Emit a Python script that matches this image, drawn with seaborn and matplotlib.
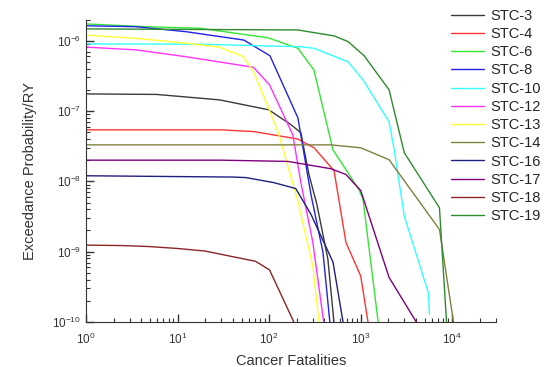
import numpy as np
import pandas as pd
import seaborn as sns
import matplotlib
matplotlib.use("Agg")
import matplotlib.pyplot as plt

# exceedance curves (x = cancer fatalities, y = probability/RY)
stc3_x = [1, 5.9, 28.7, 99, 173, 222, 272, 332, 438, 510]
stc3_y = [1.75e-7, 1.72e-7, 1.44e-7, 1.04e-7, 6.4e-8, 4.9e-8, 1.25e-8, 4.7e-9, 7.8e-10, 1.0e-10]

stc4_x = [1, 29.5, 68, 205, 309, 511, 690, 1000, 1200]
stc4_y = [5.4e-8, 5.4e-8, 5.1e-8, 4.0e-8, 3.0e-8, 1.42e-8, 1.35e-9, 4.5e-10, 1.0e-10]

stc6_x = [1, 4.5, 17.8, 44, 97, 206, 308, 498, 957, 1060, 1550]
stc6_y = [1.73e-6, 1.58e-6, 1.5e-6, 1.27e-6, 1.1e-6, 7.8e-7, 3.84e-7, 2.8e-8, 7.6e-9, 5.5e-9, 1.0e-10]

stc8_x = [1, 3.5, 12.5, 53, 102, 206, 286, 387, 460]
stc8_y = [1.63e-6, 1.58e-6, 1.34e-6, 1.02e-6, 6.1e-7, 8.0e-8, 6.5e-9, 9.8e-10, 1.0e-10]

stc10_x = [1, 17.8, 222, 308, 728, 1060, 2040, 2320, 2990, 5480, 5630]
stc10_y = [9.0e-7, 8.9e-7, 8.2e-7, 7.8e-7, 5.0e-7, 2.77e-7, 7.0e-8, 2.8e-8, 3.2e-9, 2.6e-10, 1.29e-10]

stc12_x = [1, 3.5, 12.5, 52.6, 67.6, 101, 181, 222, 300, 394]
stc12_y = [8.1e-7, 7.4e-7, 5.9e-7, 4.4e-7, 4.17e-7, 2.35e-7, 4.6e-8, 9.6e-9, 1.35e-9, 1.0e-10]

stc13_x = [1, 3.5, 12.5, 28.7, 52.6, 67.6, 98.5, 127, 206, 300, 350]
stc13_y = [1.2e-6, 1.08e-6, 9.2e-7, 8.1e-7, 5.9e-7, 3.6e-7, 1.11e-7, 4.75e-8, 5.2e-9, 6.2e-10, 1.0e-10]

stc14_x = [1, 473, 1000, 2040, 7240, 10300]
stc14_y = [3.3e-8, 3.3e-8, 3.0e-8, 2.03e-8, 2.07e-9, 1.0e-10]

stc16_x = [1, 9, 41, 56, 112, 195, 286, 498, 641]
stc16_y = [1.2e-8, 1.17e-8, 1.15e-8, 1.13e-8, 9.6e-9, 7.9e-9, 3.4e-9, 7.1e-10, 1.0e-10]

stc17_x = [1, 29.5, 160, 473, 690, 1000, 2040, 4040]
stc17_y = [2.0e-8, 2.0e-8, 1.92e-8, 1.51e-8, 1.25e-8, 7.4e-9, 4.3e-10, 1.0e-10]

stc18_x = [1, 2.6, 5.0, 10, 20, 38, 71, 101, 186]
stc18_y = [1.24e-9, 1.22e-9, 1.18e-9, 1.11e-9, 1.02e-9, 8.6e-10, 7.3e-10, 5.5e-10, 1.0e-10]

stc19_x = [1, 206, 510, 728, 1090, 2040, 2990, 7240, 8650]
stc19_y = [1.47e-6, 1.42e-6, 1.17e-6, 9.7e-7, 6.1e-7, 2.0e-7, 2.55e-8, 4.2e-9, 1.0e-10]

names = ["STC-3", "STC-4", "STC-6", "STC-8", "STC-10", "STC-12",
         "STC-13", "STC-14", "STC-16", "STC-17", "STC-18", "STC-19"]
xs = [stc3_x, stc4_x, stc6_x, stc8_x, stc10_x, stc12_x,
      stc13_x, stc14_x, stc16_x, stc17_x, stc18_x, stc19_x]
ys = [stc3_y, stc4_y, stc6_y, stc8_y, stc10_y, stc12_y,
      stc13_y, stc14_y, stc16_y, stc17_y, stc18_y, stc19_y]
colors = ["#3a3a3a", "#ff3333", "#33e633", "#2323e6", "#33ffff", "#ff33ff",
          "#ffff33", "#808040", "#1f1f80", "#800080", "#8b2525", "#2e8b2e"]

rows = []
for n, x, y in zip(names, xs, ys):
    for a, b in zip(x, y):
        rows.append({"series": n, "fatalities": a, "prob": b})
df = pd.DataFrame(rows)

sns.set_style("ticks")
plt.rcParams["font.family"] = ["Liberation Sans", "DejaVu Sans"]

fig = plt.figure(figsize=(5.49, 3.67), dpi=100)
ax = fig.add_axes([86 / 549, 1 - 322 / 367, 410 / 549, (322 - 19.5) / 367])

sns.lineplot(data=df, x="fatalities", y="prob", hue="series", hue_order=names,
             palette=dict(zip(names, colors)), sort=False, estimator=None,
             linewidth=1.0, ax=ax, legend=True)

ax.set_xscale("log")
ax.set_yscale("log")
ax.set_xlim(1, 3e4)
ax.set_ylim(1e-10, 2e-6)
ax.set_yticks([1e-10, 1e-9, 1e-8, 1e-7, 1e-6])
ax.set_xticks([1, 10, 100, 1000, 10000])
sns.despine(ax=ax)
ax.spines["left"].set_color("#333333")
ax.spines["bottom"].set_color("#333333")
ax.tick_params(which="major", direction="in", length=6, width=1, colors="#333333", labelsize=8.5)
ax.tick_params(axis="x", which="major", pad=7)
ax.tick_params(which="minor", direction="in", length=3, width=0.8, colors="#333333")

ax.set_xlabel("Cancer Fatalities", fontsize=10.5, color="#333333", labelpad=5)
ax.set_ylabel("Exceedance Probability/RY", fontsize=10.5, color="#333333", labelpad=11)

handles, labels = ax.get_legend_handles_labels()
ax.legend(handles, labels, loc="upper left", bbox_to_anchor=(442 / 549, 1.0),
          bbox_transform=fig.transFigure, frameon=False, fontsize=10.5,
          handlelength=2.3, handletextpad=0.4, labelspacing=0.29, borderaxespad=0.2)

fig.savefig("out.png", dpi=100)
